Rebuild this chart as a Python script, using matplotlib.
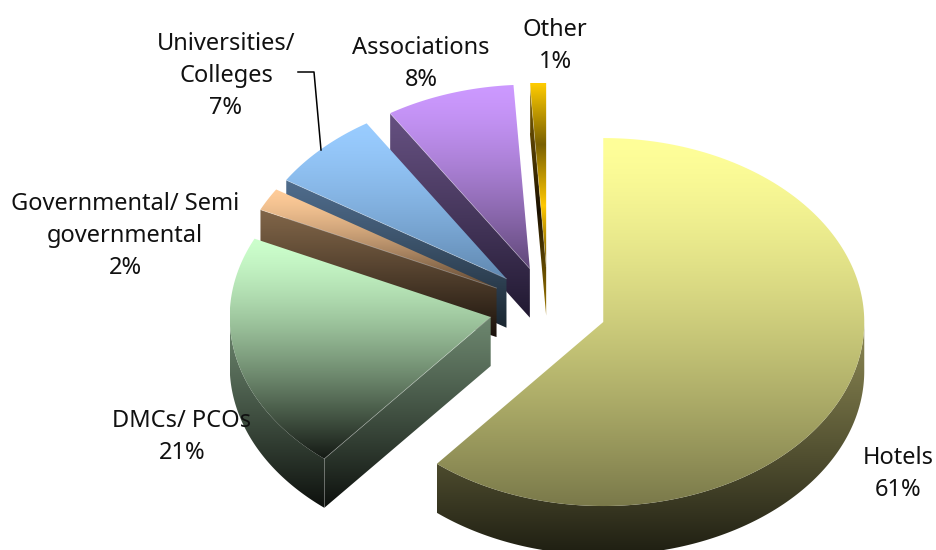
#!/usr/bin/python3

import numpy as np
import matplotlib as mpl
mpl.use('Agg')
import matplotlib.pyplot as plt
from matplotlib.colors import to_rgb
from matplotlib.patches import Polygon

mpl.rcParams['font.family'] = ['Noto Sans', 'DejaVu Sans']

labels = ['Hotels\n61%', 'DMCs/ PCOs\n21%', 'Governmental/ Semi\ngovernmental\n2%',
          'Universities/\nColleges\n7%', 'Associations\n8%', 'Other\n1%']
values = [61, 21, 2, 7, 8, 1]

# face colours, top of gradient -> bottom of gradient
top_colors = [('#ffff99', '#7a794a'), ('#ccffcc', '#141914'), ('#ffcc99', '#5e4630'),
              ('#99ccff', '#6088b0'), ('#cc99ff', '#604878'),
              ('#ffcc00', '#7a6000', '#ffc800', '#6b5000')]
side_colors = [('#8a8652', '#1e1e12'), ('#6c866e', '#0d100d'), ('#806548', '#1a120c'),
               ('#4f6c8c', '#1a2630'), ('#655080', '#201830'),
               ('#806000', '#1a1000', '#a07a00')]
label_pos = [(898, 474), (182, 437), (125, 236), (226, 76), (421, 64), (555, 46)]

W, H = 936, 550
cx, cy = 548, 308       # pie centre, pixels
rx, ry = 261, 184       # ellipse radii, pixels
depth = 49 / ry
explode = 0.225


def shade(ax, pts, stops, z, gamma=1.0):
    # vertical gradient clipped to a polygon
    xs, ys = pts[:, 0], pts[:, 1]
    t = np.linspace(0, 1, 256) ** gamma
    pos = np.linspace(0, 1, len(stops))
    rgb = np.array([to_rgb(c) for c in stops])
    img = np.stack([np.interp(t, pos, rgb[:, k]) for k in range(3)], axis=1)[:, None, :]
    im = ax.imshow(img, extent=(xs.min(), xs.max(), ys.min(), ys.max()),
                   aspect='auto', origin='upper', interpolation='bilinear', zorder=z)
    im.set_clip_path(Polygon(pts, closed=True, transform=ax.transData))


def ring(a0, a1):
    a = np.radians(np.linspace(a0, a1, 200))
    return np.column_stack([np.sin(a), np.cos(a)])


fig = plt.figure(figsize=(W / 100, H / 100), dpi=100)
ax = fig.add_axes([0, 0, 1, 1])

edges = np.cumsum([0] + values) / sum(values) * 360

# back slices first, Hotels last
for n, i in enumerate(reversed(range(len(values)))):
    z = 10 * (n + 1)
    t0, t1 = edges[i], edges[i + 1]
    mid = np.radians((t0 + t1) / 2)
    apex = explode * np.array([np.sin(mid), np.cos(mid)])
    down = np.array([0, -depth])
    p = None

    # wall on the t0 side
    if np.sin(np.radians(t0)) < -1e-6:
        p = apex + ring(t0, t0)[0]
        shade(ax, np.array([apex, p, p + down, apex + down]), side_colors[i], z, 1.15)

    # outer rim, front half only
    a0, a1 = max(t0, 90), min(t1, 270)
    if a1 > a0:
        arc = apex + ring(a0, a1)
        shade(ax, np.vstack([arc, (arc + down)[::-1]]), side_colors[i], z + 1, 1.15)

    shade(ax, np.vstack([apex, apex + ring(t0, t1)]), top_colors[i], z + 2,
          1.0 if len(top_colors[i]) > 2 else 1.4)

    # thin highlight where the wall meets the top face
    if p is not None:
        ax.plot([apex[0], p[0]], [apex[1], p[1]], color='white', alpha=0.3, lw=0.6, zorder=z + 3)
        ax.plot([p[0], p[0]], [p[1], p[1] - depth], color='white', alpha=0.2, lw=0.6, zorder=z + 3)

ax.set_xlim(-cx / rx, (W - cx) / rx)
ax.set_ylim((cy - H) / ry, cy / ry)
ax.axis('off')

for lab, (x, y) in zip(labels, label_pos):
    fig.text(x / W, 1 - y / H, lab, ha='center', va='center', fontsize=17,
             color='#111111', linespacing=1.42)

# leader for Universities/Colleges
fig.add_artist(plt.Line2D(np.array([298, 314, 321]) / W, 1 - np.array([72, 72, 150]) / H,
                          color='black', lw=1.1))

fig.savefig('out.png', dpi=100)
